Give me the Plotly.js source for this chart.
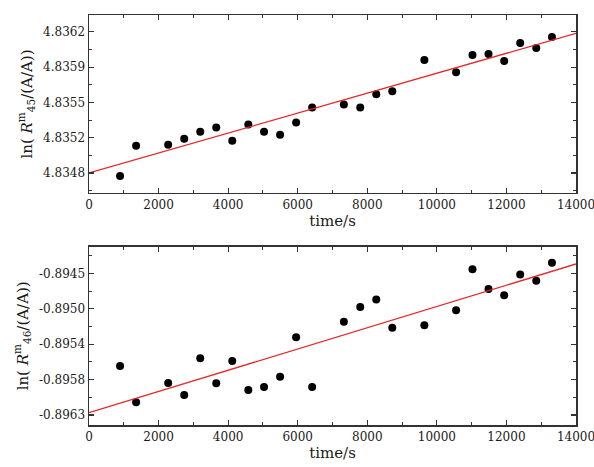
<!DOCTYPE html>
<html>
<head>
<meta charset="utf-8">
<script src="https://cdn.plot.ly/plotly-3.0.1.min.js"></script>
<style>html,body{margin:0;padding:0;background:#fff;}#chart{width:594px;height:467px;}</style>
</head>
<body>
<div id="chart"></div>
<script>
// Time points (s)
var timeTop = [893, 1354, 2276, 2737, 3198, 3658, 4119, 4580, 5032, 5493, 5954, 6415,
               7327, 7797, 8258, 8719, 9641, 10553, 11024, 11485, 11935, 12396, 12857, 13309];
var lnR45 = [4.83477, 4.83507, 4.83508, 4.83514, 4.83521, 4.83525, 4.83512, 4.83528, 4.83521, 4.83518, 4.83530, 4.83545,
             4.83548, 4.83545, 4.83558, 4.83561, 4.83592, 4.83580, 4.83597, 4.83598, 4.83591, 4.83609, 4.83604, 4.83615];
var timeBottom = timeTop;
var lnR46 = [-0.895677, -0.896139, -0.895893, -0.896046, -0.895579, -0.895897, -0.895614, -0.895982, -0.895944, -0.895813, -0.895312, -0.895944,
             -0.895114, -0.894927, -0.894834, -0.895190, -0.895160, -0.894969, -0.894448, -0.894698, -0.894778, -0.894516, -0.894593, -0.894364];
// Linear fits
var fitTime = [0, 14000];
var fitR45 = [4.83480, 4.836185];
var fitR46 = [-0.896271, -0.894381];
// Axis ticks
var xTicks = [0, 2000, 4000, 6000, 8000, 10000, 12000, 14000];
var xTickText = ['0', '2000', '4000', '6000', '8000', '10000', '12000', '14000'];
var yTopTickVals = [4.8348, 4.83515, 4.8355, 4.83585, 4.8362];
var yTopTickText = ['4.8348', '4.8352', '4.8355', '4.8359', '4.8362'];
var yBotTickVals = [-0.8963, -0.89585, -0.8954, -0.89495, -0.8945];
var yBotTickText = ['-0.8963', '-0.8958', '-0.8954', '-0.8950', '-0.8945'];

function minorVals(v) {
  var out = [];
  var step = v[1] - v[0];
  out.push(v[0] - step / 2);
  for (var i = 0; i < v.length - 1; i++) out.push((v[i] + v[i + 1]) / 2);
  out.push(v[v.length - 1] + step / 2);
  return out;
}

var FONT = '"DejaVu Serif", serif';
var TXT = '#1a1a1a';
var lineColor = '#333';

var traces = [
  {x: timeTop, y: lnR45, xaxis: 'x', yaxis: 'y', mode: 'markers', type: 'scatter',
   marker: {color: '#000', size: 8}, showlegend: false},
  {x: fitTime, y: fitR45, xaxis: 'x', yaxis: 'y', mode: 'lines', type: 'scatter',
   line: {color: 'rgb(228,40,40)', width: 1.3}, showlegend: false},
  {x: timeBottom, y: lnR46, xaxis: 'x2', yaxis: 'y2', mode: 'markers', type: 'scatter',
   marker: {color: '#000', size: 8}, showlegend: false},
  {x: fitTime, y: fitR46, xaxis: 'x2', yaxis: 'y2', mode: 'lines', type: 'scatter',
   line: {color: 'rgb(228,40,40)', width: 1.3}, showlegend: false}
];

function xAxis(anchor) {
  return {
    anchor: anchor, range: [0, 14000], tickmode: 'array', tickvals: xTicks, ticktext: xTickText,
    ticklabeloverflow: 'allow',
    showline: true, linecolor: lineColor, linewidth: 1.5, mirror: 'ticks',
    ticks: 'inside', ticklen: 5, tickwidth: 1.2, tickcolor: lineColor,
    minor: {tickmode: 'linear', dtick: 1000, tick0: 0, ticks: 'inside', ticklen: 3, tickwidth: 1, tickcolor: lineColor},
    showgrid: false, zeroline: false,
    tickfont: {family: FONT, size: 12, color: TXT},
    title: {text: 'time/s', font: {family: FONT, size: 15, color: TXT}, standoff: 3}
  };
}
function yAxis(anchor, domain, range, vals, text, titleText) {
  return {
    anchor: anchor, domain: domain, range: range, tickmode: 'array', tickvals: vals, ticktext: text,
    showline: true, linecolor: lineColor, linewidth: 1.5, mirror: 'ticks',
    ticks: 'inside', ticklen: 5, tickwidth: 1.2, tickcolor: lineColor,
    minor: {tickmode: 'array', tickvals: minorVals(vals), ticks: 'inside', ticklen: 3, tickwidth: 1, tickcolor: lineColor},
    showgrid: false, zeroline: false,
    tickfont: {family: FONT, size: 12, color: TXT},
    title: {text: titleText, font: {family: FONT, size: 15, color: TXT}, standoff: 7}
  };
}

var layout = {
  width: 594, height: 467,
  margin: {l: 89, r: 18, t: 15, b: 42},
  paper_bgcolor: '#fff', plot_bgcolor: '#fff',
  font: {family: FONT, color: TXT},
  xaxis: xAxis('y'),
  yaxis: yAxis('x', [0.566, 1], [4.834602, 4.836367], yTopTickVals, yTopTickText,
               'ln( <i>R</i><sup>m</sup><sub>45</sub>/(A/A))'),
  xaxis2: xAxis('y2'),
  yaxis2: yAxis('x2', [0, 0.435], [-0.896427, -0.894161], yBotTickVals, yBotTickText,
                'ln( <i>R</i><sup>m</sup><sub>46</sub>/(A/A))')
};

Plotly.newPlot('chart', traces, layout, {displayModeBar: false, staticPlot: true});
</script>
</body>
</html>
